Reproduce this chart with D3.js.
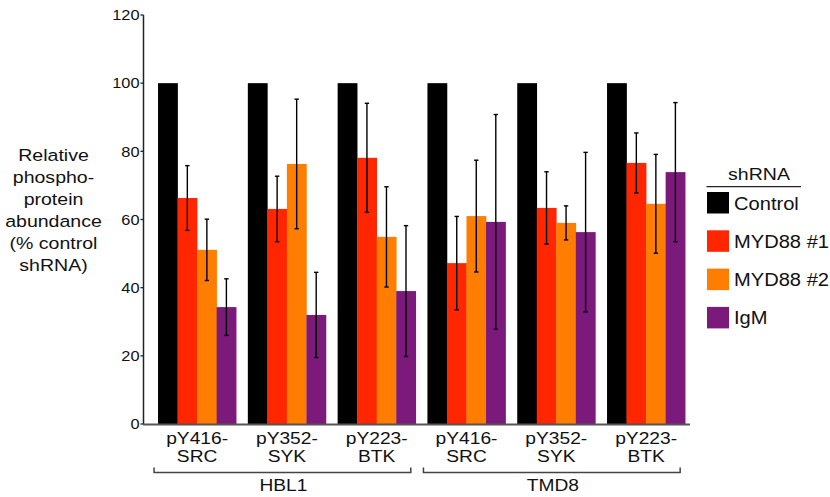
<!DOCTYPE html>
<html>
<head>
<meta charset="utf-8">
<script src="https://cdn.jsdelivr.net/npm/d3@7"></script>
<style>
  body { margin: 0; background: #fff; }
  svg { display: block; font-family: "Liberation Sans", Arial, Helvetica, sans-serif; }
</style>
</head>
<body>
<div id="chart"></div>
<script>
// cell lines and phospho-sites (x categories)
const cellLines = ["HBL1", "TMD8"];
const sites = ["pY416-SRC", "pY352-SYK", "pY223-BTK"];
const series = ["Control", "MYD88 #1", "MYD88 #2", "IgM"];
const colors = ["#000000", "#ff2600", "#ff7d00", "#7b1a7b"];
const yTicks = [0, 20, 40, 60, 80, 100, 120];

// values, order: HBL1 x3 sites, TMD8 x3 sites
const control = [100, 100, 100, 100, 100, 100];
const myd88a = [66.3, 63.1, 78.1, 47.2, 63.4, 76.6];
const myd88aErr = [9.5, 9.6, 16.0, 13.7, 10.6, 8.8];
const myd88b = [51.1, 76.3, 54.9, 61.0, 59.0, 64.6];
const myd88bErr = [9.0, 19.0, 14.7, 16.4, 5.0, 14.5];
const igm = [34.3, 32.0, 39.0, 59.3, 56.3, 73.9];
const igmErr = [8.3, 12.5, 19.2, 31.5, 23.4, 20.4];

const values = [control, myd88a, myd88b, igm];
const errors = [null, myd88aErr, myd88bErr, igmErr];

let categories = [];
cellLines.forEach(c => sites.forEach(s => categories.push({ line: c, site: s, id: c + " " + s })));

let rows = [];
categories.forEach((cat, i) => {
    series.forEach((s, j) => {
        rows.push({ cat: cat.id, series: s, idx: j, value: values[j][i], err: errors[j] ? errors[j][i] : null });
    });
});

const width = 830, height = 497;
const stretch = 1.13; // text in the figure is slightly wider than normal

let svg = d3.select("#chart")
    .append("svg")
    .attr("width", width)
    .attr("height", height);

// scales
let x = d3.scaleBand()
    .domain(categories.map(d => d.id))
    .range([152.2, 691])
    .paddingInner(0.13)
    .paddingOuter(0.065);

let xInner = d3.scaleBand()
    .domain(series)
    .range([0, x.bandwidth()])
    .padding(0);

let y = d3.scaleLinear()
    .domain([0, 120])
    .range([424, 15]);

function addText(g, tx, ty, txt, size, anchor) {
    return g.append("text")
        .attr("transform", "translate(" + tx + "," + ty + ") scale(" + stretch + ",1)")
        .attr("text-anchor", anchor || "middle")
        .style("font-size", size + "px")
        .attr("fill", "#111")
        .text(txt);
}

// bars
svg.selectAll(".bar")
    .data(rows)
    .enter()
    .append("rect")
    .attr("class", "bar")
    .attr("x", d => x(d.cat) + xInner(d.series))
    .attr("y", d => y(d.value))
    .attr("width", xInner.bandwidth() + 0.3)
    .attr("height", d => y(0) - y(d.value))
    .attr("fill", d => colors[d.idx]);

// error bars
let errRows = rows.filter(d => d.err != null);
let eg = svg.selectAll(".err")
    .data(errRows)
    .enter()
    .append("g")
    .attr("class", "err")
    .attr("stroke", "#000")
    .attr("stroke-width", 1.4);

const cx = d => x(d.cat) + xInner(d.series) + xInner.bandwidth() / 2;
eg.append("line")
    .attr("x1", cx).attr("x2", cx)
    .attr("y1", d => y(d.value + d.err))
    .attr("y2", d => y(d.value - d.err));
eg.append("line")
    .attr("x1", d => cx(d) - 2.2).attr("x2", d => cx(d) + 2.2)
    .attr("y1", d => y(d.value + d.err)).attr("y2", d => y(d.value + d.err));
eg.append("line")
    .attr("x1", d => cx(d) - 2.2).attr("x2", d => cx(d) + 2.2)
    .attr("y1", d => y(d.value - d.err)).attr("y2", d => y(d.value - d.err));

// y axis
let yAxis = svg.append("g").attr("class", "yaxis");
yAxis.append("line")
    .attr("x1", 143.5).attr("x2", 143.5)
    .attr("y1", y(120)).attr("y2", y(0))
    .attr("stroke", "#222").attr("stroke-width", 1.5);
yTicks.forEach(t => {
    yAxis.append("line")
        .attr("x1", 140.5).attr("x2", 143.5)
        .attr("y1", y(t)).attr("y2", y(t))
        .attr("stroke", "#222").attr("stroke-width", 1.3);
    addText(yAxis, 139.5, y(t) + 5.2, t, 14.5, "end");
});

// x axis line
svg.append("line")
    .attr("x1", 143).attr("x2", 690)
    .attr("y1", y(0) + 0.5).attr("y2", y(0) + 0.5)
    .attr("stroke", "#555").attr("stroke-width", 2);

// category labels, split after the hyphen
categories.forEach(cat => {
    let mid = x(cat.id) + x.bandwidth() / 2;
    let parts = cat.site.split("-");
    addText(svg, mid, 443.5, parts[0] + "-", 17);
    addText(svg, mid, 462, parts[1], 17);
});

// cell line brackets
cellLines.forEach(c => {
    let cats = categories.filter(d => d.line == c);
    let x0 = x(cats[0].id) - 4;
    let x1 = x(cats[cats.length - 1].id) + x.bandwidth() - 5;
    svg.append("path")
        .attr("d", "M" + x0 + ",467.5V472.5H" + x1 + "V467.5")
        .attr("fill", "none")
        .attr("stroke", "#444")
        .attr("stroke-width", 1.5);
    addText(svg, (x0 + x1) / 2 + 1, 490.5, c, 17);
});

// y axis title
const yTitle = ["Relative", "phospho-", "protein", "abundance", "(% control", "shRNA)"];
yTitle.forEach((t, i) => addText(svg, 53.5, 160.7 + i * 22, t, 17.3));

// legend
let legend = svg.append("g").attr("class", "legend");
addText(legend, 759, 179.5, "shRNA", 17.3);
legend.append("line")
    .attr("x1", 706.5).attr("x2", 801)
    .attr("y1", 186.7).attr("y2", 186.7)
    .attr("stroke", "#222").attr("stroke-width", 1.3);
series.forEach((s, i) => {
    let top = 192 + i * 38.3;
    legend.append("rect")
        .attr("x", 707).attr("y", top)
        .attr("width", 22).attr("height", 21.5)
        .attr("fill", colors[i]);
    addText(legend, 734, top + 17.5, s, 17.8, "start");
});
</script>
</body>
</html>
